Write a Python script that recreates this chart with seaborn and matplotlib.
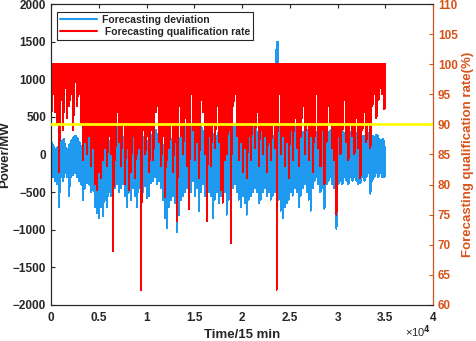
import numpy as np
import pandas as pd
import seaborn as sns
import matplotlib.pyplot as plt
from matplotlib.lines import Line2D
from matplotlib.ticker import FuncFormatter

# values, one column ~ 210 time steps (two sub-steps each)
t_end = 35000
rate_peak = 100
rate_low = [
    88, 96, 92, 90, 82, 94, 89, 96, 91, 93, 95, 89, 97, 93, 96, 90, 84, 87, 85, 88,
    83, 86, 80, 79, 82, 81, 84, 86, 83, 88, 85, 69, 84, 94, 87, 83, 90, 80, 86, 79,
    82, 88, 81, 85,
    86, 62.5, 92, 85, 88, 82, 90, 84, 93, 95, 87, 83, 89, 78, 84, 86, 90, 82, 87, 74,
    94, 88, 85, 91, 83, 76, 96, 89, 84, 87, 81, 95, 92, 85, 74, 88, 83, 90, 86, 93,
    87, 79, 77, 84,
    85, 89, 70.3, 93, 96, 88, 84, 87, 82, 86, 81, 88, 84, 90, 86, 92, 83, 89, 85, 88,
    82, 87, 84, 90, 86, 62.5, 96, 85, 88, 83, 87, 81, 89, 84, 91, 86, 83, 88, 93, 85,
    90, 84, 88, 82,
    88, 95, 86, 83, 89, 80, 87, 93, 90, 86, 84, 75, 88, 85, 89, 94, 87, 84, 90, 88,
    85, 91, 86, 81, 89, 92, 87, 90, 86, 93, 95, 91, 94, 96, 95, 92.5,
]
rate_low_b = [
    97, 95, 96, 94, 93, 96, 95, 97, 96, 95, 96, 94, 97, 96, 95, 93, 92, 94, 92, 93,
    90, 91, 88, 89, 90, 88, 89, 91, 87, 90, 89, 87, 88, 92, 89, 88, 91, 87, 88, 86,
    87, 89, 86, 88,
    87, 85, 89, 86, 88, 85, 89, 87, 92, 93, 89, 86, 88, 85, 87, 88, 91, 86, 89, 84,
    93, 90, 88, 92, 89, 87, 95, 91, 88, 90, 87, 94, 92, 89, 86, 91, 88, 92, 90, 93,
    91, 88, 87, 90,
    89, 91, 88, 94, 95, 90, 88, 91, 87, 90, 86, 91, 89, 92, 90, 93, 88, 91, 89, 91,
    87, 90, 88, 92, 90, 91, 95, 89, 91, 88, 90, 87, 92, 89, 93, 90, 88, 91, 94, 89,
    92, 88, 91, 87,
    91, 95, 90, 88, 92, 89, 91, 94, 92, 90, 88, 86, 91, 89, 92, 95, 90, 88, 93, 91,
    89, 93, 90, 87, 92, 94, 91, 93, 90, 95, 96, 93, 95, 97, 96, 94,
]
dev_high = [
    150, 100, 60, 90, 120, 180, 200, 80, 50, 120, 180, 220, 250, 200, 150, 100, 80, 150, 220, 260,
    300, 220, 150, 120, 200, 280, 320, 250, 200, 150, 220, 260, 320, 360, 300, 250, 200, 260, 300, 220,
    150, 200, 260, 200,
    150, 100, 200, 260, 150, 100, 220, 280, 320, 260, 200, 150, 100, 150, 220, 260, 200, 150, 250, 200,
    150, 250, 320, 380, 300, 250, 320, 380, 300, 260, 320, 360, 300, 250, 200, 260, 320, 260, 200, 250,
    300, 260, 200, 250,
    250, 320, 200, 300, 380, 300, 250, 200, 260, 320, 250, 200, 260, 320, 380, 300, 250, 320, 260, 300,
    250, 320, 260, 200, 250, 1500, 320, 250, 300, 260, 200, 260, 320, 250, 300, 380, 320, 250, 300, 260,
    320, 250, 200, 260,
    300, 250, 200, 260, 320, 380, 300, 250, 320, 260, 300, 250, 320, 360, 300, 250, 320, 260, 300, 360,
    300, 250, 320, 260, 200, 250, 300, 260, 200, 250, 200, 260, 200, 150, 200, 100,
]
dev_low = [
    -150, -300, -350, -400, -700, -300, -350, -250, -300, -550, -300, -280, -250, -300, -350, -400,
    -600, -450, -380, -400, -500, -480, -700, -780, -850, -700, -820, -600, -700, -500, -550, -600,
    -450, -400, -500, -450, -400, -550, -700, -500, -600, -450, -550, -700,
    -450, -650, -500, -420, -580, -550, -380, -350, -300, -400, -350, -450, -600, -850, -980, -700,
    -600, -550, -650, -1030, -800, -600, -550, -500, -450, -600, -500, -350, -550, -450, -750, -500,
    -400, -550, -700, -500, -550, -850, -600, -500, -650, -550, -600, -500,
    -800, -600, -500, -450, -400, -500, -600, -700, -550, -650, -800, -600, -550, -500, -450, -500,
    -650, -600, -500, -450, -550, -500, -600, -550, -500, -450, -600, -750, -850, -700, -650, -600,
    -500, -550, -450, -500, -700, -550, -450, -400, -500, -600, -750, -450,
    -350, -300, -400, -500, -450, -720, -400, -350, -300, -400, -450, -990, -400, -350, -400, -300,
    -350, -400, -300, -350, -300, -350, -400, -380, -300, -350, -300, -250, -520, -350, -300, -250,
    -300, -250, -300, -300,
]
dev_core = [
    -150, -250, -300, -250, -300, -200, -250, -200, -250, -300, -250, -200, -150, -200, -250, -300,
    -350, -300, -250, -300, -350, -300, -400, -450, -500, -450, -500, -400, -450, -350, -400, -350,
    -300, -250, -350, -300, -250, -350, -400, -300, -350, -300, -350, -400,
    -300, -350, -300, -250, -350, -300, -250, -200, -200, -250, -250, -300, -350, -400, -450, -400,
    -350, -300, -350, -450, -400, -350, -300, -300, -250, -350, -300, -250, -300, -250, -350, -300,
    -250, -300, -350, -300, -300, -400, -350, -300, -350, -300, -350, -300,
    -400, -350, -300, -250, -250, -300, -350, -400, -350, -400, -450, -350, -300, -300, -250, -300,
    -350, -350, -300, -250, -300, -300, -350, -300, -300, -250, -300, -400, -450, -400, -350, -350,
    -300, -300, -250, -300, -350, -300, -250, -250, -300, -350, -400, -300,
    -250, -200, -250, -300, -250, -350, -250, -200, -200, -250, -300, -350, -250, -200, -250, -200,
    -250, -250, -200, -250, -200, -250, -250, -300, -200, -250, -200, -150, -300, -250, -200, -150,
    -200, -150, -200, -250,
]

# square-wave path: down at sub-step a, across the bottom, up at sub-step b
n = len(rate_low)
step = t_end / (2 * n - 1)
t = np.repeat(np.arange(2 * n) * step, 2)
peak = np.full(n, rate_peak)
rate = np.column_stack([peak, rate_low, rate_low_b, peak]).ravel()
dev = np.column_stack([dev_high, dev_low, dev_core, dev_high]).ravel()
df = pd.DataFrame({"t": t, "dev": dev, "rate": rate})

blue = "#1E9BF0"
orange = "#D95319"
dark = "#262626"

sns.set_style("white")
plt.rcParams["font.family"] = ["Liberation Sans", "DejaVu Sans"]
plt.rcParams["font.weight"] = "bold"

fig = plt.figure(figsize=(4.77, 3.41), dpi=100)
ax = fig.add_axes([0.107, 0.106, 0.801, 0.882])
ax2 = ax.twinx()

sns.lineplot(data=df, x="t", y="dev", ax=ax, color=blue, lw=0.72, estimator=None,
             sort=False, antialiased=False)
sns.lineplot(data=df, x="t", y="rate", ax=ax2, color="red", lw=0.72, estimator=None,
             sort=False, antialiased=False)
ax2.axhline(90, color="#FFFF00", lw=2, zorder=5)

ax.set_xlim(0, 40000)
ax.set_ylim(-2000, 2000)
ax.set_yticks(range(-2000, 2001, 500))
ax.set_xticks(range(0, 40001, 5000))
ax.xaxis.set_major_formatter(FuncFormatter(lambda v, p: f"{v / 1e4:g}"))
ax2.set_ylim(60, 110)
ax2.set_yticks(range(60, 111, 5))

ax.tick_params(axis="both", direction="in", length=3, labelsize=8.5, colors=dark)
ax.tick_params(axis="x", top=True, pad=5)
ax.tick_params(axis="y", pad=3.5)
ax2.tick_params(axis="y", direction="in", length=3, labelsize=8.5, colors=orange, pad=3.5)

for a in (ax, ax2):
    for s in a.spines.values():
        s.set_color(dark)
        s.set_linewidth(0.8)
ax2.spines["right"].set_color(orange)

ax.set_xlabel("Time/15 min", fontsize=9.5, fontweight="bold", labelpad=4)
ax.set_ylabel("Power/MW", fontsize=9.5, fontweight="bold", labelpad=1)
ax2.set_ylabel("Forecasting qualification rate(%)", fontsize=9.5, fontweight="bold",
               color=orange, labelpad=3)

handles = [Line2D([], [], color=blue, lw=1.5), Line2D([], [], color="red", lw=1.5)]
leg = ax2.legend(handles, ["Forecasting deviation", " Forecasting qualification rate"],
                 loc="upper left", bbox_to_anchor=(0.016, 0.975), borderaxespad=0,
                 fontsize=7.5, frameon=True, fancybox=False, edgecolor=dark, framealpha=1,
                 handlelength=3.5, borderpad=0.3, labelspacing=0.2, handletextpad=0.5)
leg.get_frame().set_linewidth(0.8)
leg.set_zorder(10)

fig.text(0.876, 0.004, "×10$^{4}$", ha="center", va="bottom", fontsize=8,
         fontweight="normal", color=dark)

fig.savefig("out.png", dpi=100)
